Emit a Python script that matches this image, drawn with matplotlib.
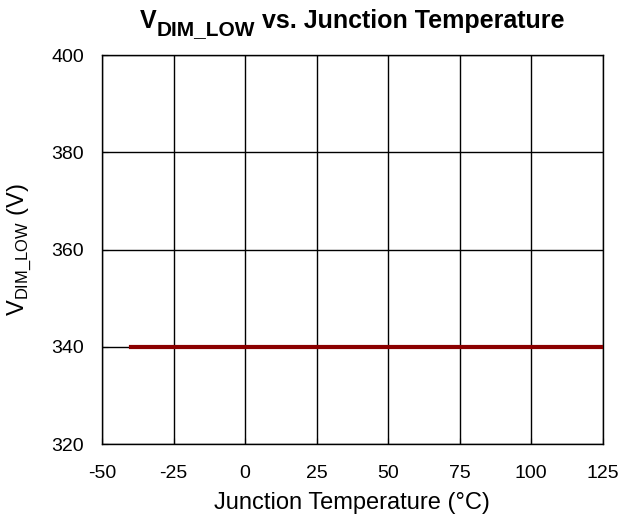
import matplotlib
matplotlib.use('Agg')
import matplotlib.pyplot as plt

# data
temps = [-40, -25, 0, 25, 50, 75, 100, 125]
v_dim_low = [340, 340, 340, 340, 340, 340, 340, 340]
x_ticks = [-50, -25, 0, 25, 50, 75, 100, 125]
y_ticks = [320, 340, 360, 380, 400]

# title pieces: (text, font size, baseline shift in px)
title_parts = [('V', 18, 0), ('DIM_LOW', 15, -7), (' vs. Junction Temperature', 18, 0)]

plt.rcParams['font.family'] = ['Liberation Sans', 'DejaVu Sans']
plt.rcParams['mathtext.fontset'] = 'custom'
plt.rcParams['mathtext.rm'] = 'Liberation Sans'
plt.rcParams['mathtext.bf'] = 'Liberation Sans:bold'
plt.rcParams['axes.unicode_minus'] = False

W, H = 622, 525
fig = plt.figure(figsize=(W / 100, H / 100), dpi=100)
ax = fig.add_axes([0.164, 0.154, 0.805, 0.741])

ax.plot(temps, v_dim_low, color='#8B0000', linewidth=3, zorder=3)

ax.set_xlim(-50, 125)
ax.set_ylim(320, 400)
ax.set_xticks(x_ticks)
ax.set_yticks(y_ticks)
ax.tick_params(labelsize=14, direction='in', length=4)
ax.tick_params(axis='x', pad=15)
ax.tick_params(axis='y', pad=13)
ax.grid(True, color='black', linewidth=1)
for s in ax.spines.values():
    s.set_linewidth(1)

ax.set_xlabel('Junction Temperature (°C)', fontsize=17)
ax.xaxis.set_label_coords(0.5, -0.123)
ax.set_ylabel(r'V$_{\mathregular{DIM\_LOW}}$ (V)', fontsize=17)
ax.yaxis.set_label_coords(-0.138, 0.5)

# title with a large subscript, built from pieces and centred over the axes
renderer = fig.canvas.get_renderer()
pieces = [fig.text(0, 0, s, fontsize=sz, fontweight='bold', va='baseline')
          for s, sz, dy in title_parts]
widths = [t.get_window_extent(renderer).width for t in pieces]
x = 352 - sum(widths) / 2
for t, w, (s, sz, dy) in zip(pieces, widths, title_parts):
    t.set_position((x / W, (H - 28 + dy) / H))
    x += w

plt.savefig('out.png')
plt.close()
